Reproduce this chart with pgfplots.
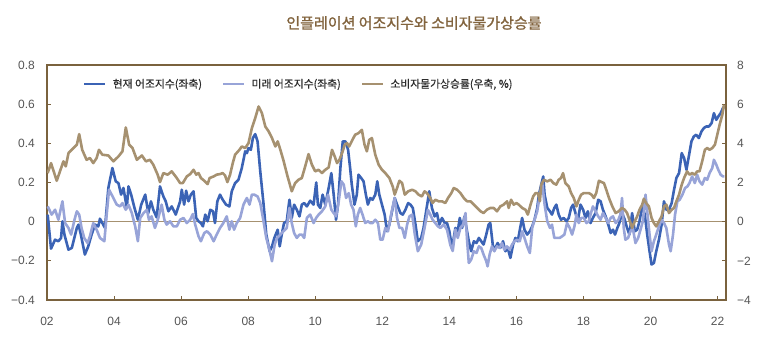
\documentclass[border=0pt]{standalone}
\usepackage{pgfplots}
\pgfplotsset{compat=1.18}
\usepackage{fontspec}
\setmainfont{Liberation Sans}
\newfontfamily\kr{Noto Sans CJK KR}[FakeBold=0.6]
\newfontfamily\krt{Noto Sans CJK KR}[FakeBold=1.2]
\definecolor{cblue}{RGB}{59,99,181}
\definecolor{clav}{RGB}{152,164,216}
\definecolor{ctan}{RGB}{166,145,112}
\definecolor{cax}{RGB}{122,98,62}
\definecolor{ctitle}{RGB}{130,100,62}
\definecolor{ctick}{RGB}{85,85,85}
\definecolor{ctext}{RGB}{45,45,45}
\begin{document}
\begin{tikzpicture}
\path[use as bounding box] (0,0) rectangle (766pt,349pt);
\node[font=\krt\fontsize{15}{16}\selectfont, text=ctitle] at (414pt,326pt) {인플레이션 어조지수와 소비자물가상승률};
\begin{axis}[
  at={(47pt,49pt)}, anchor=south west, scale only axis,
  width=679pt, height=235pt,
  xmin=2002, xmax=2022.25, ymin=-0.4, ymax=0.8,
  xtick={2002,2004,2006,2008,2010,2012,2014,2016,2018,2020,2022},
  xticklabels={02,04,06,08,10,12,14,16,18,20,22},
  ytick={-0.4,-0.2,0,0.2,0.4,0.6,0.8},
  yticklabels={−0.4,−0.2,0,0.2,0.4,0.6,0.8},
  xtick pos=bottom, ytick pos=left,
  tick align=inside, major tick length=4pt,
  tick style={color=cax, line width=1pt},
  axis line style={color=cax, line width=1.7pt},
  tick label style={font=\fontsize{12}{14}\selectfont, text=ctick, inner sep=0pt},
  yticklabel style={anchor=east, xshift=-12pt},
  xticklabel style={anchor=north, yshift=-17pt},
  clip=false,
  legend style={at={(0.053,0.919)}, anchor=west, draw=none, fill=none, inner sep=0pt,
    font=\kr\fontsize{10.8}{12}\selectfont, text=ctext,
    nodes={inner sep=0pt},
    /tikz/every odd column/.append style={column sep=6pt},
    /tikz/every even column/.append style={column sep=20pt}},
  legend columns=3,
  legend image code/.code={\draw[#1] (0pt,0pt) -- (21pt,0pt);},
]
\addplot[ctan, line width=1pt, forget plot] coordinates {(2002,0) (2022.25,0)};
\addplot[cblue, line width=2.6pt, line join=round] table {
2002.02 0.036
2002.12 -0.138
2002.24 -0.092
2002.34 -0.100
2002.42 -0.083
2002.46 0.002
2002.52 -0.066
2002.64 -0.143
2002.74 -0.134
2002.89 -0.032
2002.94 -0.015
2003.01 -0.066
2003.13 -0.168
2003.23 -0.126
2003.33 -0.066
2003.43 -0.015
2003.53 -0.024
2003.58 0.015
2003.65 -0.007
2003.73 -0.032
2003.83 0.172
2003.95 0.274
2004.05 0.206
2004.13 0.197
2004.21 0.138
2004.28 0.172
2004.38 0.070
2004.43 0.180
2004.51 0.138
2004.61 0.070
2004.71 0.010
2004.81 0.087
2004.93 0.138
2005.02 0.044
2005.10 0.104
2005.17 0.061
2005.27 0.022
2005.37 0.180
2005.47 0.129
2005.54 0.104
2005.62 0.053
2005.72 0.078
2005.84 0.036
2005.97 0.104
2006.02 0.163
2006.09 0.087
2006.15 0.158
2006.22 0.104
2006.29 0.138
2006.37 0.155
2006.45 0.019
2006.52 0.002
2006.59 -0.007
2006.65 -0.024
2006.72 0.036
2006.79 0.002
2006.87 0.061
2006.95 0.053
2007.01 -0.007
2007.08 0.104
2007.16 0.138
2007.24 0.112
2007.34 0.087
2007.44 0.078
2007.51 0.155
2007.61 0.197
2007.71 0.214
2007.81 0.274
2007.91 0.359
2007.96 0.350
2008.01 0.376
2008.08 0.367
2008.14 0.427
2008.21 0.447
2008.28 0.410
2008.36 0.257
2008.46 0.087
2008.54 -0.066
2008.64 -0.151
2008.71 -0.126
2008.78 -0.083
2008.88 -0.041
2008.94 -0.126
2009.00 -0.066
2009.07 -0.007
2009.15 0.002
2009.23 0.112
2009.30 0.019
2009.37 0.087
2009.45 0.061
2009.53 0.027
2009.60 0.087
2009.67 0.095
2009.75 0.078
2009.85 0.107
2009.95 0.087
2010.03 0.200
2010.08 0.087
2010.15 0.070
2010.22 0.138
2010.30 0.087
2010.40 0.172
2010.48 0.248
2010.55 0.138
2010.62 0.010
2010.68 0.087
2010.75 0.274
2010.82 0.410
2010.90 0.410
2010.98 0.367
2011.04 0.274
2011.09 0.189
2011.17 0.087
2011.24 0.138
2011.29 0.240
2011.37 0.223
2011.44 0.206
2011.51 0.138
2011.57 0.087
2011.64 0.121
2011.71 0.112
2011.79 0.138
2011.85 0.206
2011.91 0.138
2011.99 0.087
2012.07 0.036
2012.14 -0.049
2012.21 -0.015
2012.29 0.053
2012.37 0.121
2012.44 0.087
2012.54 0.044
2012.61 0.036
2012.69 0.061
2012.77 0.095
2012.84 0.087
2012.91 0.070
2012.99 -0.015
2013.06 -0.100
2013.16 -0.083
2013.23 -0.032
2013.33 0.078
2013.40 0.155
2013.48 0.070
2013.56 0.027
2013.63 0.044
2013.70 -0.015
2013.78 0.019
2013.86 -0.007
2013.93 -0.007
2014.00 -0.049
2014.08 -0.135
2014.18 -0.032
2014.25 -0.049
2014.31 0.019
2014.38 -0.032
2014.45 0.027
2014.51 -0.032
2014.58 -0.100
2014.65 -0.151
2014.73 -0.100
2014.81 -0.109
2014.88 -0.083
2014.95 -0.100
2015.02 -0.117
2015.10 -0.066
2015.17 -0.015
2015.22 -0.007
2015.30 -0.126
2015.37 -0.134
2015.44 -0.109
2015.52 -0.134
2015.60 -0.100
2015.67 -0.151
2015.74 -0.134
2015.82 -0.185
2015.90 -0.117
2015.97 -0.083
2016.04 -0.100
2016.12 -0.024
2016.17 0.019
2016.24 -0.041
2016.32 -0.066
2016.40 -0.049
2016.47 -0.024
2016.54 0.010
2016.62 0.070
2016.67 0.138
2016.74 0.189
2016.80 0.231
2016.84 0.138
2016.92 0.070
2017.00 0.053
2017.06 0.036
2017.13 0.070
2017.19 0.087
2017.26 0.036
2017.33 0.010
2017.41 0.019
2017.49 0.002
2017.56 0.019
2017.63 0.070
2017.69 0.087
2017.76 0.044
2017.83 0.002
2017.91 0.087
2017.99 0.061
2018.06 0.019
2018.13 0.053
2018.21 -0.007
2018.28 0.019
2018.36 0.044
2018.44 0.112
2018.51 0.104
2018.58 0.061
2018.66 0.027
2018.74 -0.015
2018.81 -0.058
2018.88 -0.041
2018.94 -0.066
2019.01 -0.032
2019.07 -0.007
2019.15 0.044
2019.23 0.010
2019.30 -0.032
2019.37 -0.066
2019.45 0.044
2019.53 -0.049
2019.60 -0.041
2019.67 0.002
2019.75 0.078
2019.83 0.036
2019.90 -0.066
2019.97 -0.151
2020.03 -0.219
2020.10 -0.211
2020.17 -0.151
2020.25 -0.092
2020.33 -0.015
2020.40 0.104
2020.47 0.061
2020.55 0.061
2020.63 0.095
2020.70 0.163
2020.77 0.223
2020.85 0.248
2020.93 0.350
2021.00 0.325
2021.07 0.265
2021.15 0.342
2021.22 0.410
2021.29 0.435
2021.36 0.444
2021.44 0.427
2021.52 0.461
2021.59 0.478
2021.66 0.486
2021.74 0.486
2021.82 0.503
2021.89 0.554
2021.96 0.520
2022.02 0.537
2022.09 0.554
2022.16 0.580
2022.20 0.588
};
\addlegendentry{현재 어조지수(좌축)}
\addplot[clav, line width=2.6pt, line join=round] table {
2002.02 0.078
2002.14 0.036
2002.24 0.061
2002.34 0.010
2002.46 0.104
2002.54 -0.007
2002.64 -0.032
2002.72 -0.066
2002.82 0.010
2002.89 0.053
2002.96 0.036
2003.03 -0.032
2003.11 -0.083
2003.21 -0.109
2003.28 -0.075
2003.38 -0.007
2003.48 -0.041
2003.58 -0.083
2003.71 -0.100
2003.78 0.036
2003.85 0.163
2003.98 0.121
2004.08 0.087
2004.18 0.078
2004.25 0.095
2004.35 0.061
2004.43 0.087
2004.53 0.044
2004.63 -0.024
2004.71 -0.100
2004.78 0.019
2004.88 0.044
2004.98 0.061
2005.04 0.010
2005.12 0.027
2005.22 -0.032
2005.32 0.019
2005.42 0.087
2005.50 0.010
2005.57 -0.015
2005.67 0.002
2005.77 -0.024
2005.87 -0.024
2005.97 0.010
2006.07 0.019
2006.17 -0.007
2006.27 0.010
2006.35 0.039
2006.42 -0.015
2006.52 -0.075
2006.59 -0.100
2006.69 -0.058
2006.77 -0.049
2006.87 -0.066
2006.97 -0.100
2007.06 -0.066
2007.16 -0.032
2007.26 -0.007
2007.36 0.027
2007.44 -0.041
2007.51 0.002
2007.58 -0.041
2007.66 -0.007
2007.76 0.019
2007.86 0.087
2007.96 0.121
2008.04 0.087
2008.11 0.138
2008.18 0.138
2008.28 0.129
2008.36 0.095
2008.44 0.019
2008.54 -0.083
2008.62 -0.134
2008.71 -0.202
2008.79 -0.117
2008.86 -0.083
2008.96 -0.066
2009.05 -0.049
2009.15 -0.032
2009.23 0.070
2009.30 -0.007
2009.37 -0.058
2009.45 -0.083
2009.53 -0.066
2009.60 -0.066
2009.67 -0.083
2009.75 0.019
2009.85 0.036
2009.95 -0.007
2010.03 0.020
2010.10 0.036
2010.20 0.053
2010.30 0.078
2010.38 0.138
2010.48 0.061
2010.55 0.044
2010.62 0.027
2010.70 0.104
2010.78 0.206
2010.85 0.189
2010.92 0.121
2011.00 0.146
2011.07 0.087
2011.14 0.061
2011.21 -0.024
2011.27 0.036
2011.34 0.070
2011.41 0.036
2011.49 -0.007
2011.57 0.002
2011.64 -0.007
2011.71 -0.007
2011.79 0.010
2011.87 -0.007
2011.94 -0.092
2012.01 -0.092
2012.09 -0.032
2012.17 -0.049
2012.27 0.044
2012.37 0.121
2012.44 0.019
2012.51 -0.032
2012.59 -0.032
2012.67 -0.083
2012.74 -0.015
2012.81 0.027
2012.89 0.036
2012.97 -0.066
2013.06 -0.151
2013.16 -0.117
2013.26 -0.032
2013.36 0.061
2013.43 0.036
2013.50 0.010
2013.58 -0.007
2013.66 -0.024
2013.73 -0.032
2013.83 -0.015
2013.93 -0.041
2014.03 -0.120
2014.10 -0.150
2014.18 -0.040
2014.25 -0.083
2014.33 -0.032
2014.41 -0.015
2014.48 0.044
2014.53 -0.100
2014.58 -0.211
2014.65 -0.194
2014.73 -0.151
2014.81 -0.160
2014.88 -0.126
2014.95 -0.134
2015.02 -0.168
2015.10 -0.202
2015.14 -0.228
2015.20 -0.168
2015.27 -0.126
2015.34 -0.151
2015.42 -0.126
2015.50 -0.134
2015.57 -0.109
2015.64 -0.143
2015.72 -0.126
2015.80 -0.143
2015.87 -0.117
2015.94 -0.100
2016.02 -0.092
2016.10 -0.100
2016.17 -0.049
2016.24 -0.083
2016.32 -0.126
2016.40 -0.160
2016.47 -0.032
2016.54 0.010
2016.62 0.053
2016.70 0.138
2016.77 0.197
2016.84 0.087
2016.92 0.002
2017.00 -0.032
2017.06 -0.015
2017.13 -0.083
2017.21 -0.083
2017.29 -0.083
2017.36 -0.075
2017.43 -0.066
2017.51 -0.007
2017.59 -0.032
2017.66 -0.066
2017.73 -0.024
2017.79 0.036
2017.86 -0.007
2017.93 0.019
2018.01 0.019
2018.09 -0.007
2018.16 0.002
2018.21 0.036
2018.28 0.078
2018.36 0.053
2018.44 0.027
2018.51 0.010
2018.58 0.044
2018.66 0.019
2018.74 -0.007
2018.81 0.019
2018.88 0.027
2018.96 -0.007
2019.04 0.010
2019.10 0.036
2019.15 0.121
2019.20 -0.032
2019.25 -0.092
2019.33 -0.083
2019.40 -0.049
2019.47 -0.032
2019.55 -0.109
2019.63 -0.083
2019.70 -0.041
2019.77 0.002
2019.85 0.138
2019.90 0.053
2019.97 -0.066
2020.03 -0.151
2020.10 -0.100
2020.17 -0.066
2020.25 -0.024
2020.33 0.010
2020.40 -0.007
2020.47 -0.032
2020.55 -0.117
2020.60 -0.151
2020.67 -0.066
2020.73 0.036
2020.80 0.104
2020.87 0.112
2020.95 0.138
2021.03 0.172
2021.10 0.180
2021.16 0.197
2021.24 0.231
2021.32 0.197
2021.39 0.240
2021.46 0.206
2021.54 0.189
2021.62 0.223
2021.69 0.214
2021.76 0.248
2021.84 0.274
2021.89 0.316
2021.96 0.291
2022.02 0.265
2022.09 0.240
2022.16 0.231
2022.20 0.231
};
\addlegendentry{미래 어조지수(좌축)}
\addlegendimage{ctan, line width=2.6pt}
\addlegendentry{소비자물가상승률(우축, \%)}
\end{axis}
\begin{axis}[
  at={(47pt,49pt)}, anchor=south west, scale only axis,
  width=679pt, height=235pt,
  xmin=2002, xmax=2022.25, ymin=-4, ymax=8,
  axis x line=none, axis y line*=right,
  ytick={-4,-2,0,2,4,6,8},
  yticklabels={−4,−2,0,2,4,6,8},
  tick align=inside, major tick length=4pt,
  tick style={color=cax, line width=1pt},
  axis line style={color=cax, line width=1.7pt, -},
  tick label style={font=\fontsize{12}{14}\selectfont, text=ctick, inner sep=0pt},
  yticklabel style={anchor=west, xshift=11pt},
]
\addplot[ctan, line width=2.6pt, line join=round] table {
2002.02 2.48
2002.12 2.99
2002.29 2.09
2002.49 3.08
2002.56 2.82
2002.64 3.50
2002.79 3.76
2002.89 3.93
2002.96 4.47
2003.05 3.67
2003.18 3.16
2003.28 3.25
2003.38 2.99
2003.48 3.25
2003.55 3.67
2003.65 3.42
2003.83 3.38
2003.98 3.08
2004.13 3.33
2004.25 3.59
2004.35 4.81
2004.45 3.93
2004.55 3.76
2004.68 3.16
2004.83 3.38
2004.95 3.08
2005.07 3.16
2005.17 2.91
2005.30 2.40
2005.37 2.02
2005.47 2.48
2005.60 2.40
2005.72 2.57
2005.87 2.23
2005.97 1.97
2006.05 1.97
2006.17 2.31
2006.27 2.43
2006.37 2.65
2006.45 2.40
2006.52 2.48
2006.59 2.23
2006.69 2.09
2006.79 1.92
2006.85 2.23
2006.97 2.31
2007.06 2.40
2007.16 2.43
2007.24 2.48
2007.31 2.36
2007.38 2.02
2007.46 2.40
2007.54 2.99
2007.61 3.42
2007.74 3.67
2007.81 3.84
2007.91 3.76
2008.01 4.01
2008.11 4.78
2008.21 5.29
2008.31 5.88
2008.41 5.54
2008.51 4.86
2008.61 4.61
2008.71 4.27
2008.81 3.84
2008.88 4.10
2008.96 3.67
2009.06 3.08
2009.16 2.40
2009.30 1.55
2009.40 1.97
2009.50 2.14
2009.60 2.23
2009.70 2.82
2009.80 3.45
2009.90 2.91
2010.00 2.57
2010.10 2.65
2010.20 2.48
2010.30 2.65
2010.40 2.77
2010.50 3.67
2010.58 3.33
2010.65 2.99
2010.72 3.16
2010.80 3.50
2010.88 3.93
2010.95 4.01
2011.01 3.84
2011.11 4.18
2011.19 4.44
2011.29 4.52
2011.39 4.69
2011.47 3.93
2011.54 3.59
2011.61 4.18
2011.69 4.27
2011.79 3.42
2011.89 2.91
2011.99 2.65
2012.09 2.48
2012.21 2.23
2012.31 1.80
2012.37 1.38
2012.44 1.72
2012.51 2.09
2012.59 1.97
2012.67 1.38
2012.77 1.55
2012.89 1.63
2012.99 1.55
2013.08 1.38
2013.18 1.29
2013.26 1.55
2013.33 1.46
2013.43 1.21
2013.50 0.95
2013.58 1.12
2013.68 1.04
2013.78 1.04
2013.88 0.95
2013.96 1.21
2014.06 1.46
2014.13 1.72
2014.23 1.63
2014.33 1.46
2014.43 1.21
2014.53 1.04
2014.63 1.04
2014.73 0.87
2014.83 0.70
2014.93 0.53
2015.02 0.44
2015.12 0.61
2015.22 0.70
2015.32 0.70
2015.42 0.53
2015.52 0.78
2015.62 0.87
2015.72 1.04
2015.77 0.70
2015.84 1.12
2015.92 0.87
2016.00 0.95
2016.07 0.87
2016.17 0.70
2016.27 0.61
2016.34 0.36
2016.42 0.87
2016.50 1.29
2016.57 1.46
2016.64 1.46
2016.70 1.04
2016.74 1.89
2016.82 2.14
2016.92 2.06
2017.02 2.14
2017.10 1.97
2017.19 1.89
2017.26 2.14
2017.33 2.23
2017.39 2.48
2017.46 1.97
2017.56 1.80
2017.63 1.46
2017.71 1.21
2017.79 0.78
2017.86 1.12
2017.93 1.38
2018.01 1.46
2018.11 1.46
2018.16 1.46
2018.24 1.38
2018.31 1.21
2018.38 1.46
2018.46 2.09
2018.54 2.02
2018.61 1.97
2018.68 1.63
2018.76 1.21
2018.86 0.78
2018.96 0.44
2019.05 0.53
2019.15 0.70
2019.23 0.61
2019.30 0.44
2019.37 0.10
2019.45 -0.32
2019.53 0.02
2019.60 0.27
2019.67 0.61
2019.75 0.87
2019.80 1.17
2019.87 0.95
2019.95 0.78
2020.03 0.19
2020.10 -0.07
2020.17 -0.24
2020.25 0.02
2020.33 0.27
2020.40 0.78
2020.47 0.87
2020.55 0.44
2020.63 0.61
2020.70 0.70
2020.77 1.04
2020.85 1.38
2020.93 1.89
2021.00 2.23
2021.09 2.57
2021.16 2.40
2021.24 2.48
2021.32 2.40
2021.39 2.57
2021.46 2.57
2021.54 3.08
2021.62 3.67
2021.69 3.76
2021.76 3.67
2021.84 3.76
2021.92 3.93
2021.99 4.44
2022.06 4.95
2022.14 5.46
2022.19 5.97
};
\end{axis}
\end{tikzpicture}
\end{document}
